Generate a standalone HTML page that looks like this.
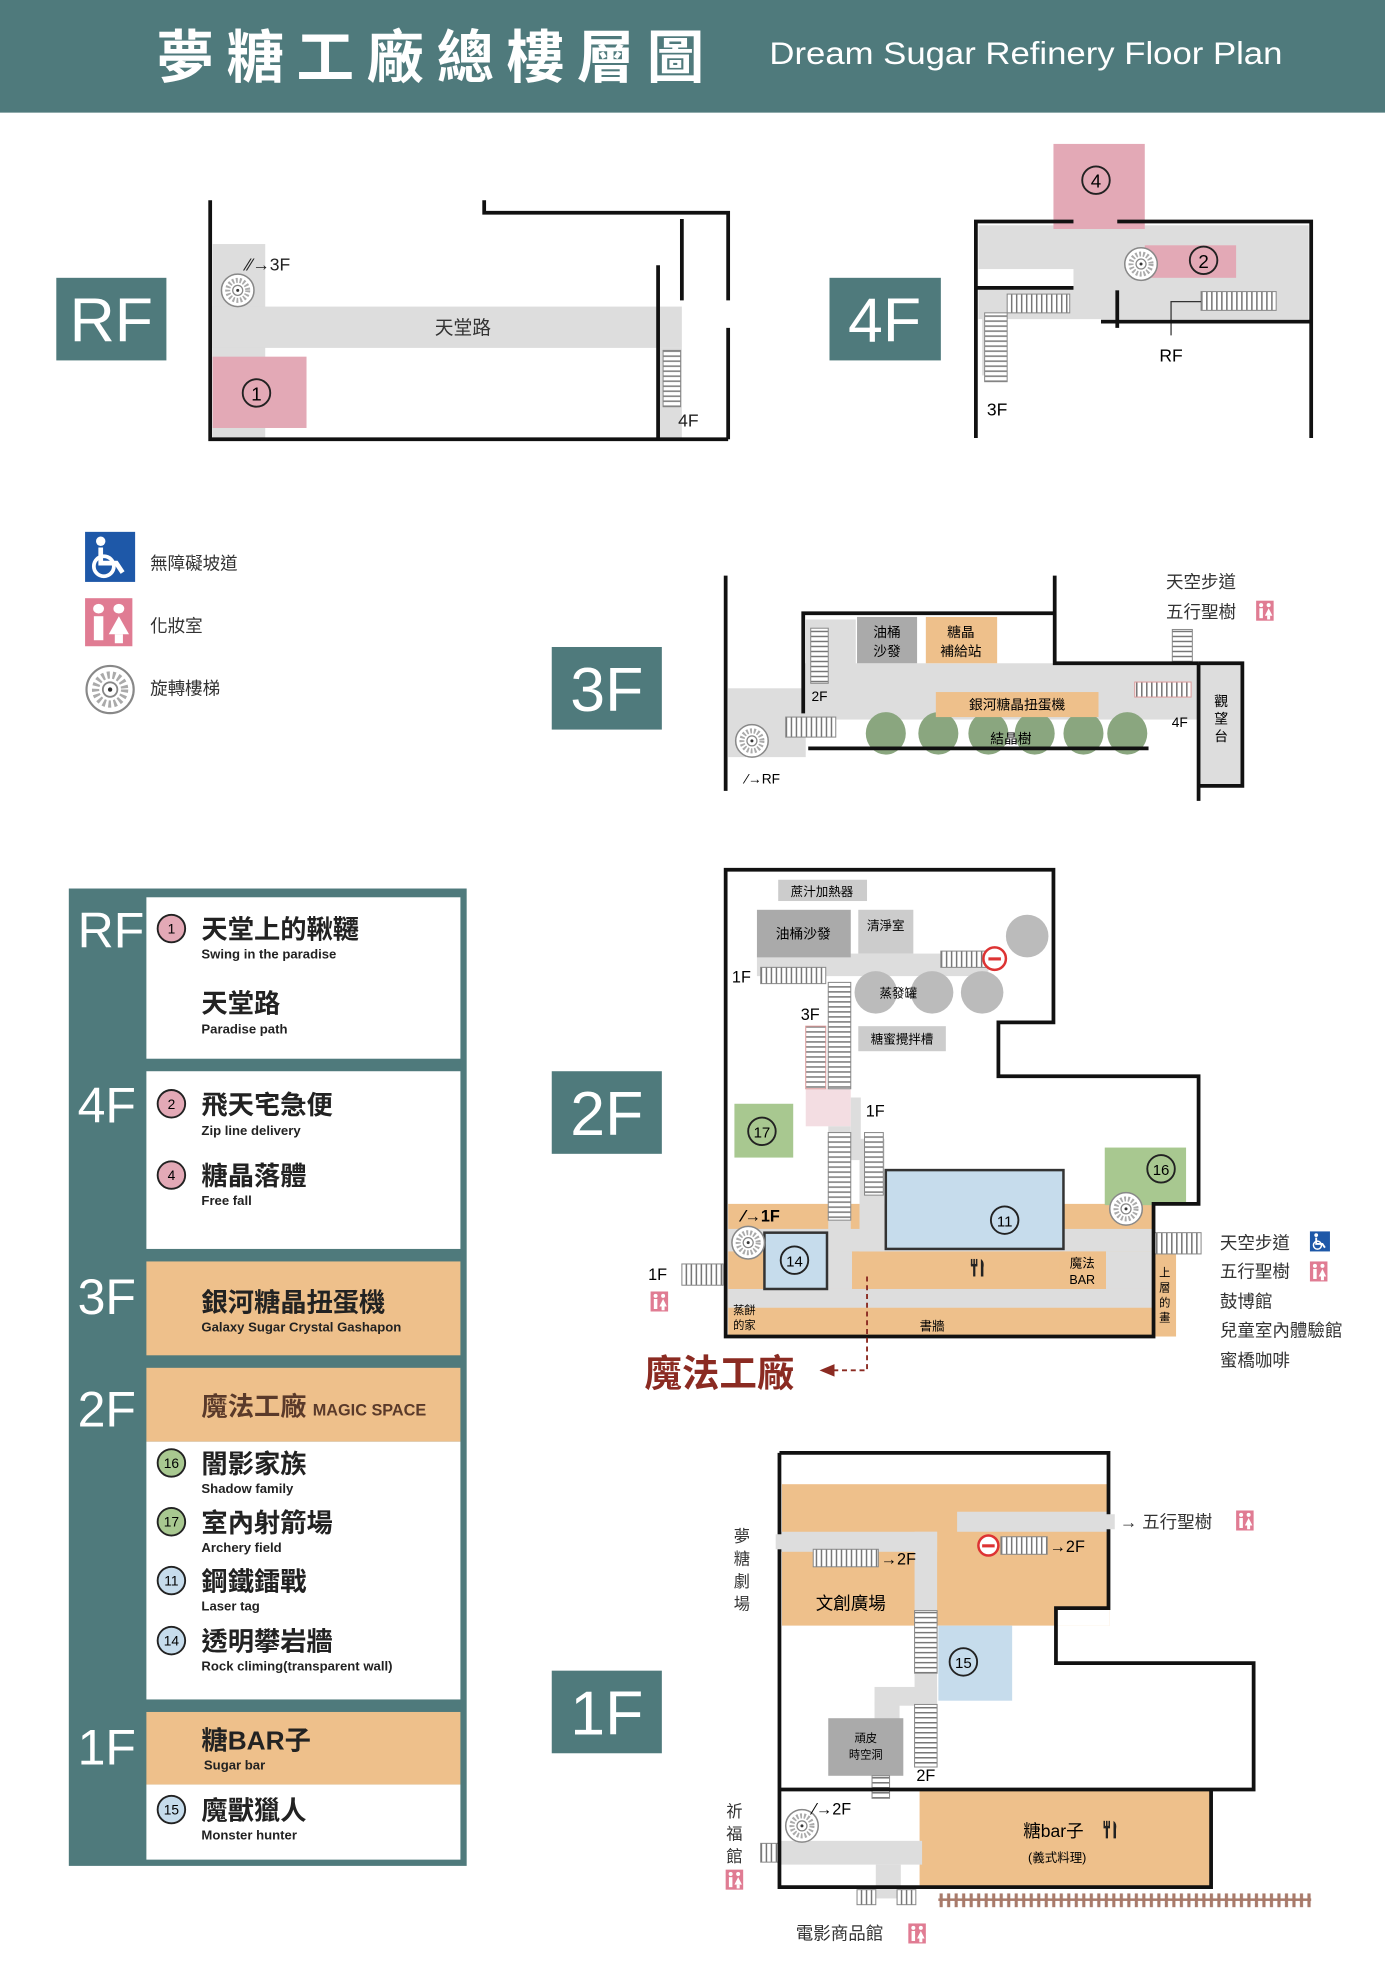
<!DOCTYPE html>
<html><head><meta charset="utf-8"><style>
html,body{margin:0;padding:0;background:#fff;width:1385px;height:1961px;overflow:hidden}
svg{display:block}
text{font-family:"Liberation Sans","Noto Sans CJK TC",sans-serif}
</style></head><body>
<svg width="1385" height="1961" viewBox="0 0 1107 1567" preserveAspectRatio="none" xmlns="http://www.w3.org/2000/svg">
<defs>
<pattern id="vs" width="4" height="4" patternUnits="userSpaceOnUse"><rect width="4" height="4" fill="#fff"/><rect width="1.2" height="4" fill="#777"/></pattern>
<pattern id="hs" width="4" height="4" patternUnits="userSpaceOnUse"><rect width="4" height="4" fill="#fff"/><rect width="4" height="1.2" fill="#777"/></pattern>
<pattern id="rail" width="6" height="12" patternUnits="userSpaceOnUse"><rect x="1" width="2.5" height="12" fill="#a87a6a"/></pattern>
<g id="sp"><circle r="13" fill="#fff" stroke="#888" stroke-width="1.2"/><circle r="8" fill="none" stroke="#aaa" stroke-width="4" stroke-dasharray="1.5 1.5"/><circle r="4" fill="#fff" stroke="#888"/><circle r="1.2" fill="#333"/></g>
<g id="wc"><rect x="0" y="0" width="14" height="16" fill="#e07c93"/><circle cx="4" cy="3.5" r="1.6" fill="#fff"/><circle cx="10" cy="3.5" r="1.6" fill="#fff"/><rect x="2.6" y="6" width="2.8" height="8" fill="#fff"/><path d="M10 6 L13 12 L7 12Z" fill="#fff"/><rect x="8.8" y="12" width="2.4" height="3" fill="#fff"/></g>
<g id="hc"><rect width="16" height="16" fill="#1e58a8"/><circle cx="5" cy="3" r="1.5" fill="#fff"/><path d="M5 5 V10 H10 L12 13" stroke="#fff" fill="none" stroke-width="1.5"/><circle cx="6" cy="11" r="3.2" stroke="#fff" fill="none" stroke-width="1.2"/></g>
<g id="fk" fill="#222"><rect x="0" y="0" width="1.2" height="5"/><rect x="2" y="0" width="1.2" height="5"/><rect x="4" y="0" width="1.2" height="5"/><rect x="0" y="4" width="5.2" height="2"/><rect x="1.8" y="5" width="1.8" height="9"/><path d="M8 0 Q11 2 10 7 L10 14 L8 14Z"/></g>
</defs>

<!-- header -->
<rect x="0" y="0" width="1107" height="90" fill="#4f7a7c"/>
<text x="125" y="62" fill="#fff" font-size="46" font-weight="bold" letter-spacing="10">夢糖工廠總樓層圖</text>
<text x="615" y="51" fill="#fff" font-size="25" textLength="410" lengthAdjust="spacingAndGlyphs">Dream Sugar Refinery Floor Plan</text>

<!-- floor labels -->
<g fill="#4f7a7c"><rect x="45" y="222" width="88" height="66"/><rect x="663" y="222" width="89" height="66"/><rect x="441" y="517" width="88" height="66"/><rect x="441" y="856" width="88" height="66"/><rect x="441" y="1335" width="88" height="66"/></g>
<g fill="#fff" font-size="50" text-anchor="middle"><text x="89" y="273">RF</text><text x="707" y="273">4F</text><text x="485" y="568">3F</text><text x="485" y="907">2F</text><text x="485" y="1386">1F</text></g>

<!-- RF plan -->
<rect x="170" y="195" width="42" height="155" fill="#ddd"/>
<rect x="170" y="245" width="375" height="33" fill="#ddd"/>
<rect x="527" y="278" width="18" height="72" fill="#ddd"/>
<rect x="170" y="285" width="75" height="57" fill="#e3a9b6"/>
<circle cx="205" cy="314" r="11" fill="none" stroke="#222" stroke-width="1.5"/><text x="205" y="320" font-size="15" text-anchor="middle">1</text>
<text x="370" y="267" font-size="15" text-anchor="middle" fill="#333">天堂路</text>
<rect x="530" y="280" width="14" height="45" fill="url(#hs)" stroke="#888" stroke-width=".8"/>
<use href="#sp" x="190" y="232"/>
<text x="197" y="216" font-size="14" fill="#222">⁄⁄→3F</text>
<text x="542" y="341" font-size="14" fill="#222">4F</text>
<g stroke="#111" stroke-width="3" fill="none">
<path d="M168 160 V351 H582"/><path d="M387 160 V170 H582 V240"/><path d="M582 262 V351"/><path d="M545 175 V240"/><path d="M526 212 V351"/>
</g>

<!-- 4F plan -->
<rect x="782" y="180" width="264" height="75" fill="#ddd"/>
<rect x="782" y="215" width="76" height="14" fill="#fff"/>
<rect x="785" y="232" width="20" height="68" fill="#ddd"/>
<rect x="842" y="115" width="73" height="68" fill="#e3a9b6"/>
<circle cx="876" cy="144" r="11" fill="none" stroke="#222" stroke-width="1.5"/><text x="876" y="150" font-size="15" text-anchor="middle">4</text>
<rect x="915" y="196" width="73" height="26" fill="#e3a9b6"/>
<circle cx="962" cy="208" r="11" fill="none" stroke="#222" stroke-width="1.5"/><text x="962" y="214" font-size="15" text-anchor="middle">2</text>
<use href="#sp" x="912" y="211"/>
<rect x="960" y="233" width="60" height="15" fill="url(#vs)" stroke="#888" stroke-width=".8"/>
<rect x="805" y="235" width="50" height="15" fill="url(#vs)" stroke="#888" stroke-width=".8"/>
<rect x="787" y="250" width="18" height="55" fill="url(#hs)" stroke="#888" stroke-width=".8"/>
<path d="M960 241 H936 V268" stroke="#333" fill="none"/><text x="936" y="289" font-size="14" text-anchor="middle">RF</text>
<text x="797" y="332" font-size="14" text-anchor="middle">3F</text>
<g stroke="#111" stroke-width="3" fill="none">
<path d="M780 350 V177 H858"/><path d="M893 177 H1048 V350"/><path d="M780 230 H858"/><path d="M880 257 H1048"/><path d="M893 232 V262"/>
</g>

<!-- legend icons -->
<use href="#hc" x="68" y="425" transform="translate(68 425) scale(2.5) translate(-68 -425)"/>
<text x="120" y="455" font-size="14" fill="#333">無障礙坡道</text>
<use href="#wc" x="0" y="0" transform="translate(68 478) scale(2.7 2.4)"/>
<text x="120" y="505" font-size="14" fill="#333">化妝室</text>
<use href="#sp" transform="translate(88 551) scale(1.45)"/>
<text x="120" y="555" font-size="14" fill="#333">旋轉樓梯</text>

<!-- 3F plan -->
<rect x="642" y="530" width="316" height="45" fill="#ddd"/>
<rect x="582" y="550" width="62" height="55" fill="#ddd"/>
<rect x="644" y="495" width="40" height="40" fill="#ddd"/>
<rect x="685" y="493" width="48" height="37" fill="#aaa"/><text x="709" y="509" font-size="11" text-anchor="middle">油桶</text><text x="709" y="524" font-size="11" text-anchor="middle">沙發</text>
<rect x="740" y="493" width="57" height="37" fill="#eec08b"/><text x="768" y="509" font-size="11" text-anchor="middle">糖晶</text><text x="768" y="524" font-size="11" text-anchor="middle">補給站</text>
<rect x="958" y="530" width="35" height="98" fill="#ddd"/>
<text x="976" y="564" font-size="11" text-anchor="middle">觀</text><text x="976" y="578" font-size="11" text-anchor="middle">望</text><text x="976" y="592" font-size="11" text-anchor="middle">台</text>
<g fill="#8aa67f"><ellipse cx="708" cy="586" rx="16" ry="17"/><ellipse cx="750" cy="586" rx="16" ry="17"/><ellipse cx="790" cy="586" rx="16" ry="17"/><ellipse cx="827" cy="586" rx="16" ry="17"/><ellipse cx="866" cy="586" rx="16" ry="17"/><ellipse cx="901" cy="586" rx="16" ry="17"/></g>
<rect x="748" y="553" width="130" height="20" fill="#eec08b"/><text x="813" y="567" font-size="11" text-anchor="middle">銀河糖晶扭蛋機</text>
<text x="808" y="594" font-size="11" text-anchor="middle">結晶樹</text>
<rect x="648" y="502" width="14" height="44" fill="url(#hs)" stroke="#888" stroke-width=".8"/><text x="655" y="560" font-size="11" text-anchor="middle">2F</text>
<rect x="628" y="573" width="40" height="16" fill="url(#vs)" stroke="#888" stroke-width=".8"/>
<rect x="907" y="545" width="45" height="12" fill="url(#vs)" stroke="#d99" stroke-width=".8"/>
<rect x="937" y="503" width="16" height="28" fill="url(#hs)" stroke="#888" stroke-width=".8"/>
<text x="943" y="581" font-size="11" text-anchor="middle">4F</text>
<use href="#sp" x="601" y="592"/>
<text x="596" y="626" font-size="11">⁄→RF</text>
<text x="932" y="470" font-size="14" fill="#333">天空步道</text>
<text x="932" y="494" font-size="14" fill="#333">五行聖樹</text><use href="#wc" x="1004" y="480"/>
<g stroke="#111" stroke-width="3" fill="none">
<path d="M580 460 V632"/><path d="M642 570 V490 H843"/><path d="M843 460 V530 H958"/><path d="M958 530 H993 V628 H958"/><path d="M958 530 V640"/><path d="M646 598 H918"/>
</g>

<!-- legend panel -->
<rect x="55" y="710" width="318" height="781" fill="#4f7a7c"/>
<rect x="117" y="717" width="251" height="129" fill="#fff"/>
<rect x="117" y="856" width="251" height="142" fill="#fff"/>
<rect x="117" y="1008" width="251" height="75" fill="#eec08b"/>
<rect x="117" y="1093" width="251" height="59" fill="#eec08b"/>
<rect x="117" y="1152" width="251" height="206" fill="#fff"/>
<rect x="117" y="1368" width="251" height="58" fill="#eec08b"/>
<rect x="117" y="1426" width="251" height="60" fill="#fff"/>
<g fill="#fff" font-size="40"><text x="62" y="757">RF</text><text x="62" y="897">4F</text><text x="62" y="1050">3F</text><text x="62" y="1140">2F</text><text x="62" y="1410">1F</text></g>
<g font-size="11" text-anchor="middle">
<circle cx="137" cy="742" r="11" fill="#e3a9b6" stroke="#222" stroke-width="1.5"/><text x="137" y="746">1</text>
<circle cx="137" cy="882" r="11" fill="#e3a9b6" stroke="#222" stroke-width="1.5"/><text x="137" y="886">2</text>
<circle cx="137" cy="939" r="11" fill="#e3a9b6" stroke="#222" stroke-width="1.5"/><text x="137" y="943">4</text>
<circle cx="137" cy="1169" r="11" fill="#a8c890" stroke="#222" stroke-width="1.5"/><text x="137" y="1173">16</text>
<circle cx="137" cy="1216" r="11" fill="#a8c890" stroke="#222" stroke-width="1.5"/><text x="137" y="1220">17</text>
<circle cx="137" cy="1263" r="11" fill="#c6dcec" stroke="#222" stroke-width="1.5"/><text x="137" y="1267">11</text>
<circle cx="137" cy="1311" r="11" fill="#c6dcec" stroke="#222" stroke-width="1.5"/><text x="137" y="1315">14</text>
<circle cx="137" cy="1446" r="11" fill="#c6dcec" stroke="#222" stroke-width="1.5"/><text x="137" y="1450">15</text>
</g>
<g font-size="21" font-weight="bold" fill="#222">
<text x="161" y="750">天堂上的鞦韆</text><text x="161" y="809">天堂路</text>
<text x="161" y="890">飛天宅急便</text><text x="161" y="947">糖晶落體</text>
<text x="161" y="1048">銀河糖晶扭蛋機</text>
<text x="161" y="1131" fill="#5a3a2a">魔法工廠</text>
<text x="161" y="1177">闇影家族</text><text x="161" y="1224">室內射箭場</text><text x="161" y="1271">鋼鐵鐳戰</text><text x="161" y="1319">透明攀岩牆</text>
<text x="161" y="1398">糖BAR子</text><text x="161" y="1454">魔獸獵人</text>
</g>
<text x="250" y="1131" font-size="13" font-weight="bold" fill="#5a3a2a">MAGIC SPACE</text>
<g font-size="10.5" font-weight="bold" fill="#222">
<text x="161" y="766">Swing in the paradise</text><text x="161" y="826">Paradise path</text>
<text x="161" y="907">Zip line delivery</text><text x="161" y="963">Free fall</text>
<text x="161" y="1064">Galaxy Sugar Crystal Gashapon</text>
<text x="161" y="1193">Shadow family</text><text x="161" y="1240">Archery field</text><text x="161" y="1287">Laser tag</text><text x="161" y="1335">Rock climing(transparent wall)</text>
<text x="163" y="1414">Sugar bar</text><text x="161" y="1470">Monster hunter</text>
</g>

<!-- 2F plan -->
<rect x="582" y="962" width="340" height="106" fill="#eec08b"/>
<rect x="582" y="982" width="340" height="18" fill="#ddd"/>
<rect x="582" y="1030" width="340" height="15" fill="#ddd"/>
<rect x="661" y="1000" width="20" height="30" fill="#ddd"/>
<rect x="847" y="1000" width="37" height="30" fill="#eec08b"/><text x="865" y="1013" font-size="10" text-anchor="middle">魔法</text><text x="865" y="1026" font-size="10" text-anchor="middle">BAR</text>
<rect x="884" y="1000" width="38" height="30" fill="#ddd"/>
<rect x="922" y="1000" width="18" height="68" fill="#eec08b"/>
<text x="931" y="1020" font-size="9" text-anchor="middle">上</text><text x="931" y="1032" font-size="9" text-anchor="middle">層</text><text x="931" y="1044" font-size="9" text-anchor="middle">的</text><text x="931" y="1056" font-size="9" text-anchor="middle">畫</text>
<rect x="605" y="762" width="185" height="18" fill="#ddd"/>
<rect x="622" y="703" width="71" height="17" fill="#ccc"/><text x="657" y="716" font-size="10" text-anchor="middle">蔗汁加熱器</text>
<rect x="605" y="727" width="75" height="38" fill="#aaa"/><text x="642" y="750" font-size="11" text-anchor="middle">油桶沙發</text>
<rect x="686" y="727" width="44" height="35" fill="#ccc"/><text x="708" y="743" font-size="10" text-anchor="middle">清淨室</text>
<circle cx="821" cy="748" r="17" fill="#bbb"/>
<circle cx="700" cy="793" r="17" fill="#bbb"/><circle cx="745" cy="793" r="17" fill="#bbb"/><circle cx="785" cy="793" r="17" fill="#bbb"/>
<text x="718" y="797" font-size="10" text-anchor="middle">蒸發罐</text>
<rect x="686" y="820" width="70" height="20" fill="#ccc"/><text x="721" y="834" font-size="10" text-anchor="middle">糖蜜攪拌槽</text>
<rect x="752" y="760" width="38" height="13" fill="url(#vs)" stroke="#888" stroke-width=".8"/>
<circle cx="795" cy="766" r="9" fill="#fff" stroke="#d33" stroke-width="2"/><rect x="790" y="765" width="10" height="2.5" fill="#d33"/>
<rect x="608" y="773" width="52" height="13" fill="url(#vs)" stroke="#888" stroke-width=".8"/><text x="585" y="785" font-size="13">1F</text>
<rect x="644" y="870" width="36" height="30" fill="#f3dde2"/>
<rect x="662" y="785" width="18" height="85" fill="url(#hs)" stroke="#888" stroke-width=".8"/>
<rect x="644" y="820" width="16" height="50" fill="url(#hs)" stroke="#d99" stroke-width=".8"/>
<text x="640" y="815" font-size="13">3F</text>
<rect x="680" y="877" width="8" height="50" fill="#ddd"/>
<rect x="662" y="900" width="18" height="100" fill="#ddd"/>
<rect x="662" y="905" width="18" height="70" fill="url(#hs)" stroke="#888" stroke-width=".8"/>
<rect x="687" y="910" width="20" height="90" fill="#ddd"/>
<rect x="691" y="905" width="15" height="50" fill="url(#hs)" stroke="#888" stroke-width=".8"/><text x="692" y="892" font-size="13">1F</text>
<rect x="587" y="882" width="47" height="43" fill="#a8c890"/>
<circle cx="609" cy="904" r="11" fill="none" stroke="#222" stroke-width="1.5"/><text x="609" y="909" font-size="12" text-anchor="middle">17</text>
<rect x="708" y="935" width="142" height="63" fill="#c6dcec" stroke="#333" stroke-width="2"/>
<circle cx="803" cy="975" r="11" fill="#c6dcec" stroke="#222" stroke-width="1.5"/><text x="803" y="980" font-size="12" text-anchor="middle">11</text>
<rect x="611" y="985" width="50" height="45" fill="#c6dcec" stroke="#333" stroke-width="2"/>
<circle cx="635" cy="1007" r="11" fill="none" stroke="#222" stroke-width="1.5"/><text x="635" y="1012" font-size="12" text-anchor="middle">14</text>
<rect x="883" y="917" width="65" height="46" fill="#a8c890"/>
<circle cx="928" cy="934" r="11" fill="none" stroke="#222" stroke-width="1.5"/><text x="928" y="939" font-size="12" text-anchor="middle">16</text>
<use href="#sp" x="900" y="966"/><use href="#sp" x="598" y="993"/>
<text x="593" y="976" font-size="13" font-weight="bold">⁄→1F</text>
<use href="#fk" x="776" y="1006"/>
<text x="745" y="1063" font-size="10" text-anchor="middle">書牆</text>
<text x="586" y="1050" font-size="9">蒸餅</text><text x="586" y="1062" font-size="9">的家</text>
<rect x="922" y="985" width="38" height="17" fill="url(#vs)" stroke="#888" stroke-width=".8"/>
<rect x="545" y="1010" width="33" height="17" fill="url(#vs)" stroke="#888" stroke-width=".8"/>
<text x="518" y="1023" font-size="13">1F</text><use href="#wc" x="520" y="1032"/>
<g stroke="#111" stroke-width="3" fill="none"><path d="M580 695 V1068 H922 V962 H958 V860 H798 V817 H842 V695 Z"/></g>
<path d="M693 1020 V1095 H665" stroke="#8b2b22" stroke-width="1.5" stroke-dasharray="4 3" fill="none"/>
<path d="M655 1095 L667 1090 L667 1100Z" fill="#8b2b22"/>
<text x="515" y="1108" font-size="30" font-weight="bold" fill="#8b2b22">魔法工廠</text>
<g font-size="14" fill="#333"><text x="975" y="998">天空步道</text><text x="975" y="1021">五行聖樹</text><text x="975" y="1045">鼓博館</text><text x="975" y="1068">兒童室內體驗館</text><text x="975" y="1092">蜜橋咖啡</text></g>
<use href="#hc" x="1047" y="984"/><use href="#wc" x="1047" y="1008"/>

<!-- 1F plan -->
<rect x="625" y="1186" width="262" height="113" fill="#eec08b"/>
<rect x="844" y="1285" width="43" height="14" fill="#fff"/>
<rect x="765" y="1208" width="122" height="16" fill="#ddd"/>
<rect x="623" y="1224" width="126" height="16" fill="#ddd"/>
<rect x="731" y="1224" width="18" height="140" fill="#ddd"/>
<rect x="699" y="1348" width="50" height="15" fill="#ddd"/>
<rect x="699" y="1360" width="20" height="20" fill="#ddd"/>
<rect x="750" y="1299" width="59" height="60" fill="#c6dcec"/>
<circle cx="770" cy="1328" r="11" fill="none" stroke="#222" stroke-width="1.5"/><text x="770" y="1333" font-size="12" text-anchor="middle">15</text>
<rect x="731" y="1287" width="18" height="50" fill="url(#hs)" stroke="#888" stroke-width=".8"/>
<rect x="731" y="1362" width="18" height="50" fill="url(#hs)" stroke="#888" stroke-width=".8"/>
<text x="740" y="1423" font-size="13" text-anchor="middle">2F</text>
<rect x="662" y="1373" width="60" height="46" fill="#aaa"/><text x="692" y="1392" font-size="9" text-anchor="middle">頑皮</text><text x="692" y="1405" font-size="9" text-anchor="middle">時空洞</text>
<rect x="697" y="1419" width="14" height="18" fill="url(#hs)" stroke="#888" stroke-width=".8"/>
<rect x="650" y="1238" width="52" height="14" fill="url(#vs)" stroke="#888" stroke-width=".8"/><text x="704" y="1250" font-size="13">→2F</text>
<rect x="800" y="1228" width="37" height="14" fill="url(#vs)" stroke="#888" stroke-width=".8"/><text x="839" y="1240" font-size="13">→2F</text>
<circle cx="790" cy="1235" r="8" fill="#fff" stroke="#d33" stroke-width="2"/><rect x="785" y="1234" width="10" height="2.5" fill="#d33"/>
<text x="680" y="1286" font-size="14" text-anchor="middle">文創廣場</text>
<rect x="735" y="1431" width="233" height="77" fill="#eec08b"/>
<text x="842" y="1468" font-size="14" text-anchor="middle">糖bar子</text><use href="#fk" x="882" y="1455"/><text x="845" y="1488" font-size="10" text-anchor="middle">(義式料理)</text>
<rect x="623" y="1471" width="114" height="19" fill="#ddd"/>
<rect x="700" y="1490" width="20" height="27" fill="#ddd"/>
<use href="#sp" x="641" y="1459"/><text x="650" y="1450" font-size="13">⁄→2F</text>
<rect x="608" y="1473" width="15" height="15" fill="url(#vs)" stroke="#888" stroke-width=".8"/>
<rect x="685" y="1510" width="15" height="12" fill="url(#vs)" stroke="#888" stroke-width=".8"/><rect x="717" y="1510" width="15" height="12" fill="url(#vs)" stroke="#888" stroke-width=".8"/>
<rect x="750" y="1513" width="298" height="11" fill="url(#rail)"/><rect x="750" y="1517" width="298" height="2" fill="#a87a6a"/>
<g stroke="#111" stroke-width="3" fill="none"><path d="M623 1161 H886 V1285 H844 V1329 H1002 V1430 H623"/><path d="M623 1161 V1508 H968 V1430"/></g>
<rect x="620" y="1226" width="8" height="12" fill="#ddd"/><rect x="883" y="1210" width="8" height="12" fill="#ddd"/>
<g font-size="13" fill="#333" text-anchor="middle"><text x="593" y="1232">夢</text><text x="593" y="1250">糖</text><text x="593" y="1268">劇</text><text x="593" y="1286">場</text>
<text x="587" y="1452">祈</text><text x="587" y="1470">福</text><text x="587" y="1488">館</text></g>
<use href="#wc" x="580" y="1494"/>
<text x="895" y="1221" font-size="14" fill="#333">→ 五行聖樹</text><use href="#wc" x="988" y="1207"/>
<text x="636" y="1550" font-size="14" fill="#333">電影商品館</text><use href="#wc" x="726" y="1537"/>
</svg>
</body></html>
